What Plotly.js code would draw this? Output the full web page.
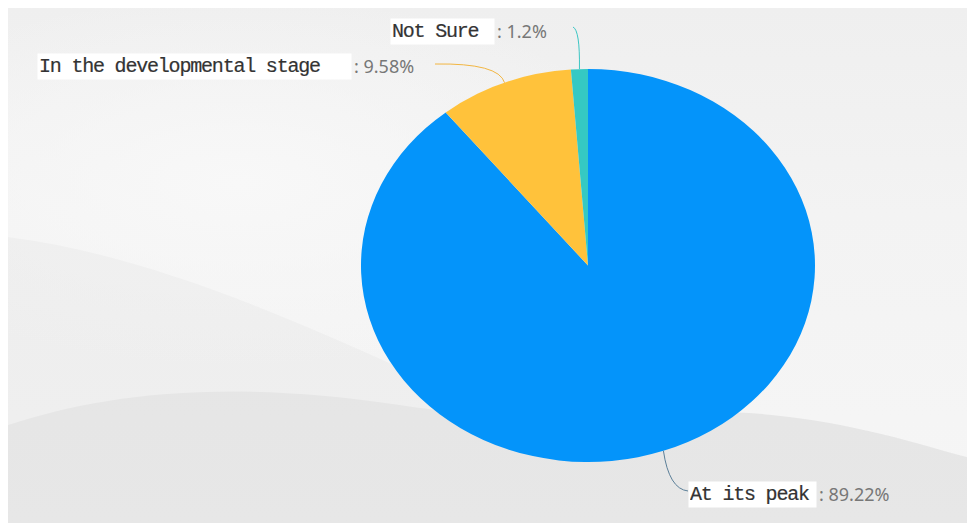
<!DOCTYPE html>
<html><head><meta charset="utf-8">
<script src="https://cdn.plot.ly/plotly-3.0.1.min.js"></script>
<style>
html,body{margin:0;padding:0;background:#fff;}
#wrap{position:relative;width:967px;height:523px;overflow:hidden;background:#fff;}
#bg{position:absolute;left:8px;top:8px;right:0;bottom:0;background:
 radial-gradient(ellipse 430px 190px at 230px 175px, rgba(248,248,248,1) 0%, rgba(248,248,248,0) 100%),
 linear-gradient(180deg,#efefef 0%, #f3f3f3 40%, #f6f6f6 100%);}
#chart{position:absolute;left:0;top:0;width:967px;height:523px;}
</style></head><body>
<div id="wrap"><div id="bg"></div><div id="chart"></div></div>
<script>
// ---- data ----
const categories = ['At its peak', 'In the developmental stage', 'Not Sure'];
const shares = [89.22, 9.58, 1.2];
const percentLabels = ['89.22%', '9.58%', '1.2%'];
const sliceColors = ['#0494fa', '#ffc23b', '#35c9c3'];
const leaderColors = ['#5b7f98', '#f2b642', '#3cc6c4'];

// ---- layout constants ----
const W = 967, H = 523;
const cx = 588, cy = 265.5, ry = 196.5, rx = 227;
const px = x => x / W, py = y => 1 - y / H;

// label box placement (left edge, centre y, box width) and leader-line ends
const labelPlace = [
  {x: 688, y: 494, w: 125, end: [688, 491], ctrl: [669, 489]},
  {x: 37,  y: 66,  w: 311, end: [435, 64],  ctrl: [499, 63]},
  {x: 390, y: 31,  w: 101, end: [573, 27],  ctrl: [580, 30]}
];

// mid-angle of every slice (clockwise from 12 o'clock) -> point on the pie edge
const total = shares.reduce((a, b) => a + b, 0);
let cum = 0;
const edgePts = shares.map(v => {
  const th = (cum + v / 2) / total * 2 * Math.PI;
  cum += v;
  return [cx + rx * Math.sin(th), cy - ry * Math.cos(th)];
});

const shapes = [];
// background waves
const rightWave = `C ${px(850)},${py(420)} ${px(920)},${py(445)} ${px(967)},${py(457)}`;
shapes.push({type: 'path', layer: 'below', xref: 'paper', yref: 'paper', line: {width: 0},
  fillcolor: 'rgba(0,0,0,0.025)',
  path: `M ${px(8)},${py(237)} C ${px(150)},${py(255)} ${px(300)},${py(320)} ${px(480)},${py(405)} L ${px(750)},${py(413)} ${rightWave} L ${px(967)},${py(523)} L ${px(8)},${py(523)} Z`});
shapes.push({type: 'path', layer: 'below', xref: 'paper', yref: 'paper', line: {width: 0},
  fillcolor: 'rgba(0,0,0,0.035)',
  path: `M ${px(8)},${py(425)} C ${px(100)},${py(395)} ${px(220)},${py(378)} ${px(400)},${py(405)} C ${px(550)},${py(428)} ${px(650)},${py(405)} ${px(750)},${py(413)} ${rightWave} L ${px(967)},${py(523)} L ${px(8)},${py(523)} Z`});

// leader lines
edgePts.forEach((p, i) => {
  const L = labelPlace[i];
  shapes.push({type: 'path', xref: 'paper', yref: 'paper',
    line: {color: leaderColors[i], width: 1},
    path: `M ${px(p[0])},${py(p[1])} Q ${px(L.ctrl[0])},${py(L.ctrl[1])} ${px(L.end[0])},${py(L.end[1])}`});
});

const annotations = [];
categories.forEach((c, i) => {
  const L = labelPlace[i];
  annotations.push({
    xref: 'paper', yref: 'paper', x: px(L.x), y: py(L.y), xanchor: 'left', yanchor: 'middle',
    showarrow: false, align: 'left', width: L.w, bgcolor: '#ffffff', borderpad: 1,
    text: `<span style="letter-spacing:-1.2px;stroke:#333333;stroke-width:0.2px">${c}</span>`,
    font: {family: 'Liberation Mono, monospace', size: 20, color: '#333333'}
  });
  annotations.push({
    xref: 'paper', yref: 'paper', x: px(L.x + L.w + 4), y: py(L.y), xanchor: 'left', yanchor: 'middle',
    showarrow: false, text: ': ' + percentLabels[i],
    font: {family: 'Noto Sans, sans-serif', size: 18, color: '#777777'}
  });
});

const trace = {
  type: 'pie',
  labels: categories,
  values: shares,
  sort: false,
  direction: 'clockwise',
  rotation: 0,
  textinfo: 'none',
  marker: {colors: sliceColors, line: {width: 0}},
  domain: {x: [px(cx - 205), px(cx + 205)], y: [py(cy + ry), py(cy - ry)]},
  hoverinfo: 'label+percent'
};

const layout = {
  width: W, height: H,
  margin: {l: 0, r: 0, t: 0, b: 0},
  paper_bgcolor: 'rgba(0,0,0,0)',
  plot_bgcolor: 'rgba(0,0,0,0)',
  showlegend: false,
  shapes: shapes,
  annotations: annotations
};

Plotly.newPlot('chart', [trace], layout, {displayModeBar: false, responsive: false}).then(gd => {
  const pl = gd.querySelector('.pielayer');
  if (pl) pl.setAttribute('transform', `translate(${cx},0) scale(${rx / ry},1) translate(${-cx},0)`);
});
</script>
</body></html>
